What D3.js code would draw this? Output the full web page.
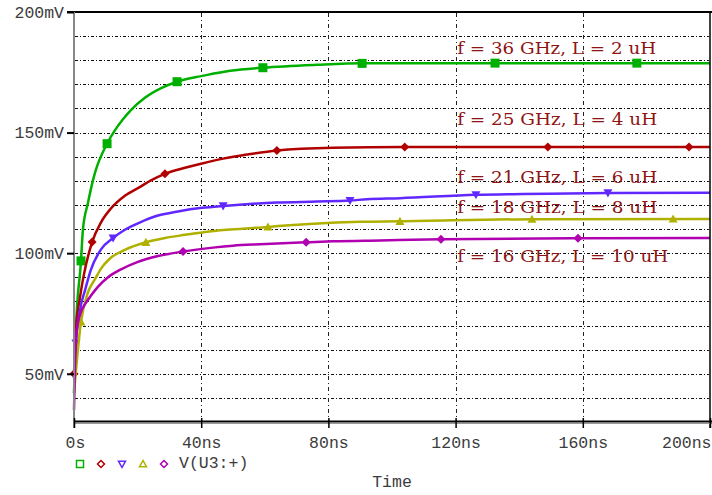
<!DOCTYPE html>
<html><head><meta charset="utf-8">
<script src="https://cdn.jsdelivr.net/npm/d3@7"></script>
<style>
html,body{margin:0;padding:0;background:#fff;}
svg{display:block;}
</style></head>
<body>
<svg id="chart" width="712" height="495"></svg>
<script>
// ---- data (time in ns, voltage in mV) ----
const seriesNames = ["green36", "red25", "blue21", "yellow18", "magenta16"];
const seriesColors = ["#00b000", "#b00000", "#6028ff", "#b0b000", "#b000b0"];
const markerShapes = ["square", "diamond", "down", "up", "diamond"];

const greenT = [0,0.6,2.2,2.8,4.4,6.0,6.9,10.4,12.9,15.4,17.9,22.3,27.4,32.4,35.8,39.6,49.1,59.4,76.4,90.6,200];
const greenV = [42,68,96.8,109.7,120.9,130.4,134.6,145.4,151.0,155.5,159.3,164.4,168.4,171.1,172.3,173.3,175.6,176.9,178.1,178.7,178.8];
const redT = [0,0.6,1.9,3.1,5.7,8.5,11.6,16.0,20.8,24.2,28.6,34.9,39.6,46.9,54.4,63.8,81.4,104,200];
const redV = [50,68,81.8,91,104.6,112.8,118.5,123.8,127.5,130.2,132.9,135.4,137.0,139.2,140.9,142.6,143.7,144.0,144.0];
const blueT = [0,0.6,1.9,3.5,5.3,8.5,12.3,16.0,20.8,26.4,32.7,40.3,46.9,53.1,63.8,76.4,86.8,92.1,102.5,126.4,141.2,167.9,200];
const blueV = [48,62.7,76.5,84.8,93.1,101.6,106.3,109.7,112.8,115.6,117.3,118.8,119.6,120.2,121.0,121.4,121.8,122.4,122.8,124.2,124.5,125.0,125.1];
const yellowT = [0,2.2,4.4,6.6,8.5,11.3,16.0,22.6,28.6,34.9,41.2,49.1,61.0,68.9,79.6,89.9,102.5,144,200];
const yellowV = [42,71.5,83.8,89.2,93.6,97.8,101.4,104.5,106.3,107.6,108.8,109.8,110.9,111.7,112.5,113.0,113.2,114.1,114.2];
const magentaT = [0,0.3,0.9,1.9,3.8,5.3,7.5,10.7,14.8,20.1,26.4,34.3,43.7,50.0,58.5,73.0,81.4,96.2,115.4,158.5,200];
const magentaV = [35,52,68.2,74.5,79.5,82.3,86.0,90.0,93.3,96.4,98.8,100.7,102.3,103.1,103.7,104.5,104.9,105.3,105.8,106.2,106.3];

const greenMarkT = [2.2,10.4,32.4,59.4,90.6,132.4,177.0];
const greenMarkV = [96.8,145.4,171.1,176.9,178.7,178.8,178.8];
const redMarkT = [0,5.7,28.6,63.8,104,149,193.4];
const redMarkV = [50,104.6,132.9,142.6,144,144,144];
const blueMarkT = [0.6,12.3,46.9,86.8,126.4,167.9];
const blueMarkV = [62.7,106.3,119.6,121.8,124.2,125.0];
const yellowMarkT = [2.2,22.6,61.0,102.5,144,188.4];
const yellowMarkV = [71.5,104.5,110.9,113.2,114.1,114.2];
const magentaMarkT = [34.3,73.0,115.4,158.5];
const magentaMarkV = [100.7,104.5,105.8,106.2];

const xTicks = [0,40,80,120,160,200];
const xTickLabels = ["0s","40ns","80ns","120ns","160ns","200ns"];
const yTicks = [50,100,150,200];
const yTickLabels = ["50mV","100mV","150mV","200mV"];
const yGrid = [40,50,60,70,80,90,100,110,120,130,140,150,160,170,180,190];
const xGrid = [40,80,120,160];

const annotations = ["f = 36 GHz, L = 2 uH","f = 25 GHz, L = 4 uH","f = 21 GHz, L = 6 uH","f = 18 GHz, L = 8 uH","f = 16 GHz, L = 10 uH"];
const annotationV = [182.5, 153, 129, 116.5, 96.5];
const annotationT = [120.5,120.5,120.5,120.5,120.5];
const annotationW = [199, 200, 200, 200, 211];

const legendText = "V(U3:+)";
const xTitle = "Time";

// ---- drawing ----
const svg = d3.select("#chart");
const x = d3.scaleLinear().domain([0,200]).range([74,710]);
const y = d3.scaleLinear().domain([30,200]).range([422,12]);

const mono = "'Liberation Mono', 'Courier New', monospace";
const labelColor = "#3c3c3c";

// grid
svg.append("g").selectAll("line").data(yGrid).join("line")
  .attr("x1", 75).attr("x2", 709)
  .attr("y1", d => Math.round(y(d)) + 0.5).attr("y2", d => Math.round(y(d)) + 0.5)
  .attr("stroke", "#111").attr("stroke-width", 1).attr("stroke-dasharray", "3,2,1,2");
svg.append("g").selectAll("line").data(xGrid).join("line")
  .attr("x1", d => Math.round(x(d)) + 0.5).attr("x2", d => Math.round(x(d)) + 0.5)
  .attr("y1", 13).attr("y2", 421)
  .attr("stroke", "#222").attr("stroke-width", 1).attr("stroke-dasharray", "4,3,1,3");

// annotations
svg.append("g").selectAll("text").data(annotations).join("text")
  .attr("x", (d,i) => x(annotationT[i]))
  .attr("y", (d,i) => y(annotationV[i]))
  .attr("textLength", (d,i) => annotationW[i])
  .attr("lengthAdjust", "spacingAndGlyphs")
  .attr("font-family", "'DejaVu Serif', serif")
  .attr("font-size", 17)
  .attr("fill", "#8e1414")
  .text(d => d);

// series
const series = [
  {t: greenT, v: greenV, mt: greenMarkT, mv: greenMarkV},
  {t: redT, v: redV, mt: redMarkT, mv: redMarkV},
  {t: blueT, v: blueV, mt: blueMarkT, mv: blueMarkV},
  {t: yellowT, v: yellowV, mt: yellowMarkT, mv: yellowMarkV},
  {t: magentaT, v: magentaV, mt: magentaMarkT, mv: magentaMarkV}
];
const line = d3.line().x(d => x(d[0])).y(d => y(d[1])).curve(d3.curveMonotoneX);

function markerPath(shape, s) {
  const h = s / 2;
  if (shape === "square") return `M${-h},${-h}H${h}V${h}H${-h}Z`;
  if (shape === "diamond") return `M0,${-h}L${h},0L0,${h}L${-h},0Z`;
  if (shape === "down") return `M${-h},${-h*0.8}H${h}L0,${h}Z`;
  if (shape === "up") return `M${-h},${h*0.8}H${h}L0,${-h}Z`;
}

series.forEach((s, i) => {
  const pts = s.t.map((t, k) => [t, s.v[k]]);
  svg.append("path").datum(pts)
    .attr("d", line).attr("fill", "none")
    .attr("stroke", seriesColors[i]).attr("stroke-width", 2.5)
    .attr("stroke-linejoin", "round");
  const mk = s.mt.map((t, k) => [t, s.mv[k]]);
  svg.append("g").selectAll("path").data(mk).join("path")
    .attr("transform", d => `translate(${x(d[0])},${y(d[1])})`)
    .attr("d", markerPath(markerShapes[i], 9))
    .attr("fill", seriesColors[i]);
});

// axes frame
svg.append("line").attr("x1", 67).attr("x2", 712).attr("y1", 12).attr("y2", 12)
  .attr("stroke", "#000").attr("stroke-width", 2);
svg.append("line").attr("x1", 710).attr("x2", 710).attr("y1", 12).attr("y2", 428)
  .attr("stroke", "#000").attr("stroke-width", 1.5);
svg.append("line").attr("x1", 74).attr("x2", 74).attr("y1", 12).attr("y2", 428)
  .attr("stroke", "#888").attr("stroke-width", 2);
svg.append("line").attr("x1", 74).attr("x2", 712).attr("y1", 421.5).attr("y2", 421.5)
  .attr("stroke", "#000").attr("stroke-width", 2);
svg.append("line").attr("x1", 74).attr("x2", 712).attr("y1", 423.5).attr("y2", 423.5)
  .attr("stroke", "#999").attr("stroke-width", 1.2);

// x axis
const xAxis = d3.axisBottom(x).tickValues(xTicks)
  .tickFormat((d, i) => xTickLabels[i]).tickSizeInner(6).tickSizeOuter(0).tickPadding(8);
const gx = svg.append("g").attr("transform", "translate(0,422)").call(xAxis);
gx.select(".domain").remove();
gx.selectAll(".tick line").attr("stroke", "#000").attr("stroke-width", 1.5).attr("y1", -4);
gx.selectAll(".tick text").attr("font-family", mono).attr("font-size", 16.5)
  .attr("fill", labelColor)
  .attr("text-anchor", (d, i) => i === xTicks.length - 1 ? "end" : "middle")
  .attr("dx", (d, i) => i === xTicks.length - 1 ? 1 : (i === 0 ? 1 : 0));

// y axis
const yAxis = d3.axisLeft(y).tickValues(yTicks)
  .tickFormat((d, i) => yTickLabels[i]).tickSizeInner(7).tickSizeOuter(0).tickPadding(3);
const gy = svg.append("g").attr("transform", "translate(74,0)").call(yAxis);
gy.select(".domain").remove();
gy.selectAll(".tick line").attr("stroke", "#000").attr("stroke-width", 2);
gy.selectAll(".tick text").attr("font-family", mono).attr("font-size", 16.5)
  .attr("fill", labelColor);

// legend
const legX = [80, 101, 122, 143, 164];
svg.append("g").selectAll("path").data(seriesNames).join("path")
  .attr("transform", (d, i) => `translate(${legX[i]},464)`)
  .attr("d", (d, i) => markerPath(markerShapes[i], 7))
  .attr("fill", "none").attr("stroke", (d, i) => seriesColors[i]).attr("stroke-width", 1.5);
svg.append("text").attr("x", 179).attr("y", 468)
  .attr("font-family", mono).attr("font-size", 16.5).attr("fill", labelColor)
  .text(legendText);

// x title
svg.append("text").attr("x", 392).attr("y", 487).attr("text-anchor", "middle")
  .attr("font-family", mono).attr("font-size", 16.5).attr("fill", labelColor)
  .text(xTitle);
</script>
</body></html>
